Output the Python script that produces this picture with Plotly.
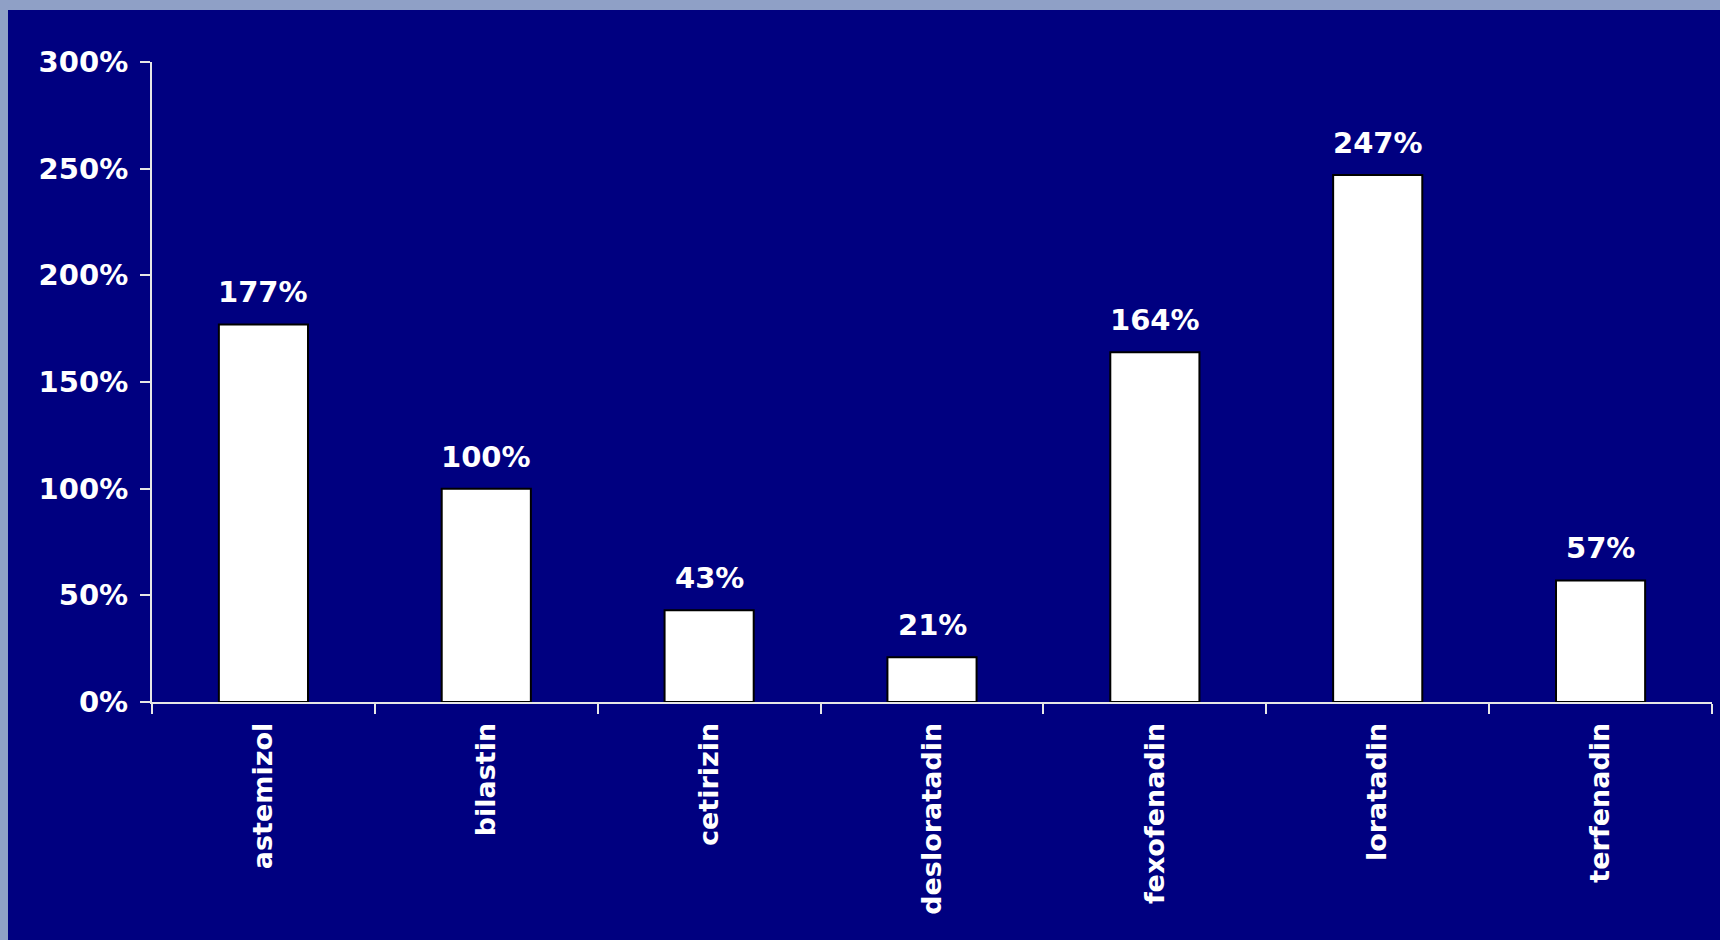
import plotly.graph_objects as go

# Antihistamines and their relative values (percent)
drugs = ["astemizol", "bilastin", "cetirizin", "desloratadin",
         "fexofenadin", "loratadin", "terfenadin"]
values = [177, 100, 43, 21, 164, 247, 57]
y_ticks = [0, 50, 100, 150, 200, 250, 300]
y_tick_labels = [f"{v}%" for v in y_ticks]

NAVY = "#000080"
FRAME = "#8fa0c6"
FONT = "DejaVu Sans"

fig = go.Figure()
fig.add_trace(go.Bar(
    x=drugs,
    y=values,
    width=0.40,
    marker=dict(color="white", line=dict(color="black", width=2)),
    hoverinfo="skip",
))

# value labels above the bars
for d, v in zip(drugs, values):
    fig.add_annotation(
        x=d, y=v, text=f"<b>{v}%</b>", showarrow=False,
        yanchor="bottom", yshift=13,
        font=dict(family=FONT, size=29, color="white"),
    )

# navy panel on top of the lighter frame
fig.add_shape(
    type="rect", xref="paper", yref="paper",
    x0=(8 - 152) / 1560, x1=(1730 - 152) / 1560,
    y0=-(950 - 702) / 640, y1=1 + (62 - 10) / 640,
    fillcolor=NAVY, line=dict(width=0), layer="below",
)

fig.update_layout(
    width=1720, height=940,
    margin=dict(l=152, r=8, t=62, b=238),
    paper_bgcolor=FRAME,
    plot_bgcolor="rgba(0,0,0,0)",
    showlegend=False,
    bargap=0.6,
    font=dict(family=FONT, color="white"),
)

fig.update_xaxes(
    type="category",
    tickson="boundaries",
    ticks="outside", ticklen=10, tickwidth=2, tickcolor="#e6e6e6",
    showline=True, linecolor="#e6e6e6", linewidth=2,
    showgrid=False, zeroline=False,
    tickangle=-90,
    tickfont=dict(family=FONT, size=27, color="white", weight="bold"),
    ticklabelstandoff=8,
)

fig.update_yaxes(
    range=[0, 300],
    tickvals=y_ticks, ticktext=y_tick_labels,
    ticks="outside", ticklen=10, tickwidth=2, tickcolor="#e6e6e6",
    showline=True, linecolor="#e6e6e6", linewidth=2,
    showgrid=False, zeroline=False,
    tickfont=dict(family=FONT, size=29, color="white", weight="bold"),
    ticklabelstandoff=6,
)

fig.write_html("out.html")
